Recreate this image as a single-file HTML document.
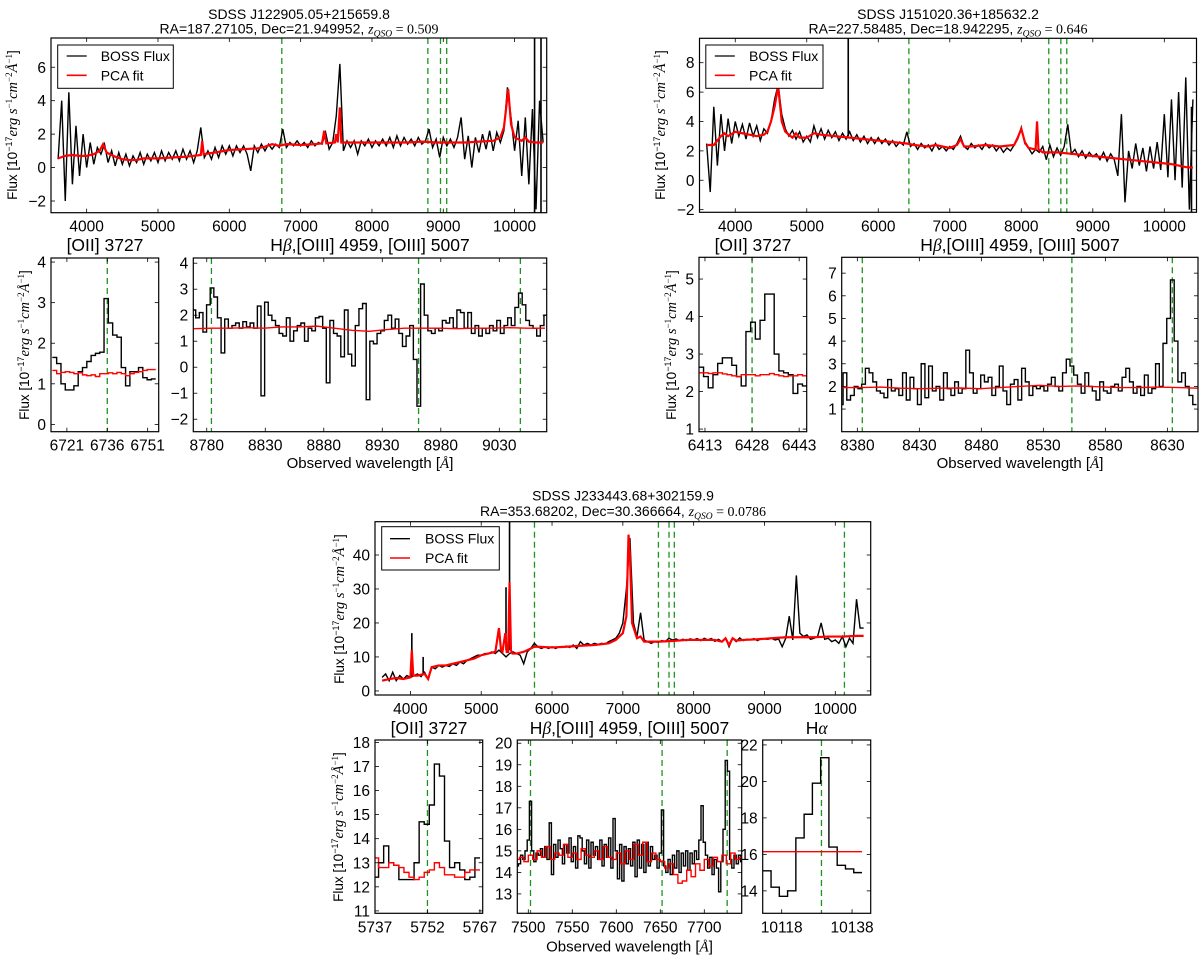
<!DOCTYPE html>
<html><head><meta charset="utf-8">
<style>
html,body{margin:0;padding:0;background:#fff;}
svg{display:block;font-family:"Liberation Sans",sans-serif;}
.tk{font-size:15.5px;fill:#000;}
.sub{font-size:17.5px;fill:#000;}
.sup{font-size:14px;fill:#000;}
.xl{font-size:15px;fill:#000;}
.yl{font-size:13.5px;fill:#000;}
.lg{font-size:14px;fill:#000;}
</style></head>
<body>
<svg id="fig" width="1200" height="957" viewBox="0 0 1200 957" xmlns="http://www.w3.org/2000/svg">
<g id="texts">
  <text class="sup" x="299" y="19" text-anchor="middle">SDSS J122905.05+215659.8</text>
  <text class="sup" x="299" y="33.5" text-anchor="middle">RA=187.27105, Dec=21.949952, <tspan font-family="Liberation Serif" font-style="italic">z</tspan><tspan font-family="Liberation Serif" font-style="italic" font-size="9.5" dy="3">QSO</tspan><tspan font-family="Liberation Serif" dy="-3"> = 0.509</tspan></text>
  <text class="sub" x="105" y="251" text-anchor="middle">[OII] 3727</text>
  <text class="sub" x="370" y="251" text-anchor="middle">H<tspan font-family="Liberation Serif" font-style="italic">β</tspan>,[OIII] 4959, [OIII] 5007</text>
  <text class="xl" x="370" y="468" text-anchor="middle">Observed wavelength [<tspan font-family="Liberation Serif" font-style="italic">Å</tspan>]</text>
  <text class="sup" x="948" y="19" text-anchor="middle">SDSS J151020.36+185632.2</text>
  <text class="sup" x="948" y="33.5" text-anchor="middle">RA=227.58485, Dec=18.942295, <tspan font-family="Liberation Serif" font-style="italic">z</tspan><tspan font-family="Liberation Serif" font-style="italic" font-size="9.5" dy="3">QSO</tspan><tspan font-family="Liberation Serif" dy="-3"> = 0.646</tspan></text>
  <text class="sub" x="753" y="251" text-anchor="middle">[OII] 3727</text>
  <text class="sub" x="1020" y="251" text-anchor="middle">H<tspan font-family="Liberation Serif" font-style="italic">β</tspan>,[OIII] 4959, [OIII] 5007</text>
  <text class="xl" x="1020" y="468" text-anchor="middle">Observed wavelength [<tspan font-family="Liberation Serif" font-style="italic">Å</tspan>]</text>
  <text class="sup" x="623" y="500.5" text-anchor="middle">SDSS J233443.68+302159.9</text>
  <text class="sup" x="623" y="516" text-anchor="middle">RA=353.68202, Dec=30.366664, <tspan font-family="Liberation Serif" font-style="italic">z</tspan><tspan font-family="Liberation Serif" font-style="italic" font-size="9.5" dy="3">QSO</tspan><tspan font-family="Liberation Serif" dy="-3"> = 0.0786</tspan></text>
  <text class="sub" x="429" y="734" text-anchor="middle">[OII] 3727</text>
  <text class="sub" x="629.5" y="734" text-anchor="middle">H<tspan font-family="Liberation Serif" font-style="italic">β</tspan>,[OIII] 4959, [OIII] 5007</text>
  <text class="sub" x="816.7" y="734" text-anchor="middle">H<tspan font-family="Liberation Serif" font-style="italic">α</tspan></text>
  <text class="xl" x="629.5" y="951.5" text-anchor="middle">Observed wavelength [<tspan font-family="Liberation Serif" font-style="italic">Å</tspan>]</text>
</g>
<g id="ylabels"></g>
<g id="plots"></g>
<g id="legends">
  <g>
    <rect x="57.7" y="45" width="115.6" height="43.3" fill="#fff" stroke="#000" stroke-width="1"/>
    <line x1="66.7" y1="56" x2="86.7" y2="56" stroke="#000" stroke-width="1.3"/>
    <text class="lg" x="100.7" y="61">BOSS Flux</text>
    <line x1="66.7" y1="75.3" x2="86.7" y2="75.3" stroke="#f00" stroke-width="1.6"/>
    <text class="lg" x="100.7" y="80.3">PCA fit</text>
  </g>
  <g>
    <rect x="705.8" y="45" width="117.2" height="43.3" fill="#fff" stroke="#000" stroke-width="1"/>
    <line x1="714.8" y1="56" x2="734.8" y2="56" stroke="#000" stroke-width="1.3"/>
    <text class="lg" x="749" y="61">BOSS Flux</text>
    <line x1="714.8" y1="75.3" x2="734.8" y2="75.3" stroke="#f00" stroke-width="1.6"/>
    <text class="lg" x="749" y="80.3">PCA fit</text>
  </g>
  <g>
    <rect x="381.7" y="526.7" width="117.6" height="43.3" fill="#fff" stroke="#000" stroke-width="1"/>
    <line x1="390" y1="538.7" x2="410" y2="538.7" stroke="#000" stroke-width="1.3"/>
    <text class="lg" x="425" y="543.7">BOSS Flux</text>
    <line x1="390" y1="558" x2="410" y2="558" stroke="#f00" stroke-width="1.6"/>
    <text class="lg" x="425" y="563">PCA fit</text>
  </g>
</g>
</svg>
<script>
// ===================== DATA =====================
const tlMainStart = 3600, mainStep = 50;
const tlMainFlux = [0.5,4.0,-2.0,4.5,-1.0,2.5,-0.5,2.0,0.0,1.5,0.2,1.2,0.8,1.4,0.3,1.0,0.1,0.9,0.2,0.8,0.1,0.7,0.3,0.9,0.2,0.8,0.4,0.9,0.3,1.0,0.4,0.9,0.5,1.0,0.4,1.1,0.5,1.0,0.3,1.0,2.4,0.6,1.0,0.5,1.2,0.6,1.3,0.8,1.3,0.7,1.3,0.9,1.3,0.8,-0.2,1.3,0.9,1.4,1.0,1.4,1.1,1.4,1.2,2.3,1.2,1.5,1.3,1.6,1.3,1.5,1.2,1.6,1.3,1.5,1.4,2.1,1.1,1.5,3.1,6.2,1.0,1.6,1.2,1.6,0.8,1.6,1.3,1.7,1.2,1.6,1.3,1.7,1.3,1.8,1.2,1.9,1.3,1.8,1.4,1.7,1.3,1.8,1.4,1.6,2.3,1.2,1.7,0.6,1.8,1.3,1.7,1.2,1.8,3.0,0.5,1.9,0.0,1.8,0.9,2.0,1.1,2.2,1.0,2.1,1.5,2.2,4.8,3.0,1.0,2.8,-0.5,3.0,-1.0,3.5,-2.5,4.0,1.5];
const tlFitWave = [3600,3700,3800,3900,4000,4100,4180,4230,4280,4400,4500,4600,4700,4800,5000,5200,5400,5600,5620,5640,5800,6000,6200,6400,6500,6600,6700,6800,7000,7200,7300,7330,7360,7480,7500,7520,7550,7570,7600,7700,7900,8100,8300,8500,8700,8900,9100,9300,9500,9700,9800,9850,9880,9910,9950,10000,10100,10150,10200,10300,10400];
const tlFitFlux = [0.55,0.7,0.75,0.7,0.7,0.8,1.0,1.4,0.9,0.65,0.5,0.45,0.45,0.55,0.55,0.6,0.65,0.75,1.6,0.8,0.9,1.05,1.1,1.15,1.25,1.4,1.3,1.4,1.35,1.4,1.45,2.2,1.45,1.5,2.0,1.5,3.6,1.5,1.5,1.5,1.5,1.5,1.5,1.5,1.55,1.5,1.5,1.5,1.55,1.6,1.8,2.4,3.5,4.7,2.6,1.8,1.6,1.8,1.55,1.5,1.5];
const tlSpikeWave = [10280,10370], tlSpikeLow = [-3,-3], tlSpikeHigh = [8,8];
const tlLines = [6736,8784,8961,9048];

const trMainFlux = [2.5,-0.8,5.0,1.0,4.5,2.0,4.2,2.5,4.0,3.0,3.8,2.8,3.9,3.0,3.7,2.7,3.5,3.2,4.0,5.5,6.5,4.5,3.5,3.0,3.4,2.8,3.3,2.6,3.0,2.6,3.7,2.9,3.5,2.8,3.4,2.9,3.3,2.7,3.2,2.8,3.3,2.7,3.1,2.6,3.0,2.5,2.9,2.5,2.9,2.5,2.8,2.4,2.7,2.3,2.6,2.4,3.3,2.3,2.5,2.1,2.5,2.2,2.4,2.0,2.5,2.1,2.3,2.0,2.3,2.1,2.5,3.0,2.3,2.1,2.5,2.2,2.4,2.1,2.5,2.2,2.4,2.0,2.3,1.9,2.2,2.0,2.4,2.8,3.6,2.5,2.2,1.8,2.1,1.9,2.3,1.4,2.4,1.6,2.2,1.7,2.3,3.8,1.8,2.1,1.6,2.0,1.5,1.9,1.6,1.8,1.4,1.9,1.3,1.8,1.4,0.3,4.5,-1.5,2.0,0.8,2.5,1.0,2.2,0.6,2.3,0.8,2.6,0.7,4.5,0.2,5.5,0.0,6.0,-0.5,7.0,-2.0,5.5];
const trFitWave = [3600,3700,3800,3850,3900,4000,4100,4200,4300,4400,4450,4500,4550,4600,4650,4700,4800,4850,4900,5000,5100,5200,5400,5600,5800,6000,6200,6400,6500,6700,6800,7000,7100,7150,7200,7300,7500,7700,7900,7950,8000,8050,8100,8200,8220,8240,8300,8500,8700,8900,9100,9300,9500,9700,9900,10100,10300,10400];
const trFitFlux = [2.4,2.4,3.0,3.2,3.0,3.3,3.2,3.1,3.0,3.1,3.3,4.0,5.0,6.4,4.0,3.3,2.9,3.2,2.9,2.9,3.2,3.1,3.0,2.9,2.8,2.7,2.6,2.5,2.4,2.3,2.4,2.2,2.4,2.8,2.3,2.3,2.4,2.3,2.4,2.9,3.5,2.6,2.2,2.1,4.0,2.1,1.9,1.9,1.8,1.7,1.6,1.5,1.4,1.3,1.2,1.1,0.9,0.85];
const trSpikeWave = [5580,10380], trSpikeLow = [3.0,-2.3], trSpikeHigh = [9.8,5.0];
const trLines = [6428,8384,8553,8636];

const bMainFlux = [4,5,3,5.5,3,4.5,3.5,4.5,4.0,4.5,5,4.2,5.5,3.5,7,6.5,7.5,7,7.5,7.2,8,7.5,8.5,8,9,9.5,10,10.5,10.5,11,11,11.5,11,12,11,10,11,11.5,11,10.5,8,11.5,12.5,14,13,12.5,13,12.5,13,12.5,13,12.8,13.2,12.8,13.5,12.5,14.5,13.5,14,13.5,14,13.7,14,13.8,14.5,15,15.5,17,20,30,45,20,16,23,15,14.5,14,14.5,14.3,14.8,14.5,15.5,15,15.3,14.8,15.2,14.8,15.3,15,15.4,14.8,15.5,15,15.4,14.6,15.2,14.5,15.5,13,15.5,14.5,15.6,14.8,15.2,15,15.4,14.8,15.3,15.3,15.2,15.5,15.0,15.3,13,15.5,22,15,34,17,16,16.5,15.2,15.5,16,20,15.2,15.5,14.5,15,14,16,13,15.5,14,27,18.5,18.5];
const bFitWave = [3600,3700,3800,3900,4000,4020,4040,4100,4200,4250,4300,4400,4500,4600,4700,4800,4900,5000,5100,5200,5250,5280,5300,5340,5360,5380,5400,5420,5440,5500,5600,5700,5750,5800,6000,6200,6400,6600,6800,6900,7000,7050,7080,7100,7130,7200,7250,7300,7400,7500,7700,7900,8100,8300,8400,8450,8500,8550,8600,8700,8900,9100,9300,9500,9700,9900,10100,10300,10400];
const bFitFlux = [3,3.5,3.8,3.5,4,12,4.5,4.5,5,3.5,7,7.5,7.5,8,8.5,9,9.5,10.5,11,11.5,18.5,12,11.5,17,11.5,11.5,32,12,11,11,11.5,12.5,13,13,12.8,13,13.3,13.5,14,15,17,22,46,40,20,15.5,16,14.5,14.5,14.5,14.7,15,15,15,14.5,15.5,13.5,15.5,14.8,15,15.2,15.5,15.8,15.8,15.8,16,16,16.2,16.2];
const bSpikeWave = [4020,4180,5350,5400], bSpikeLow = [4,5,12,12], bSpikeHigh = [17,10,30.5,51];
const bLines = [5752,7502,7652,7727,10129];

const tlOiiStart = 6716.4, tlOiiStep = 1.6;
const tlOiiFlux = [1.65,1.5,1.0,0.85,0.85,0.95,1.3,1.4,1.55,1.7,1.75,1.78,3.1,2.5,2.2,2.15,1.4,0.95,1.3,1.3,1.4,1.15,1.1,1.12];
const tlOiiFit = [1.33,1.25,1.28,1.3,1.28,1.25,1.27,1.22,1.2,1.22,1.18,1.25,1.25,1.27,1.25,1.28,1.25,1.2,1.25,1.28,1.3,1.33,1.35,1.35];
const tlOiiLines = [6736];

const tlHbStart = 8769, tlHbStep = 3.1;
const tlHbFlux = [2.2,1.9,2.1,1.35,2.4,3.05,2.7,1.9,0.55,1.85,1.5,1.6,1.7,1.5,1.75,1.55,1.7,1.5,2.35,-1.1,2.5,2.0,1.8,1.6,1.3,1.2,1.9,1.0,1.4,1.6,1.7,1.0,1.5,1.4,1.9,1.95,1.5,-0.6,1.8,1.3,1.2,0.4,2.2,0.5,0.05,1.6,2.25,2.45,-1.25,1.0,0.9,1.3,1.4,1.8,2.0,1.5,1.85,1.3,0.8,1.2,1.6,0.3,-1.5,3.2,2.0,1.4,1.3,1.5,1.4,1.8,1.7,1.9,1.5,2.2,2.1,1.5,2.1,1.3,1.6,1.2,1.5,1.3,1.6,1.4,1.8,1.3,1.6,1.9,1.6,2.3,2.85,2.4,1.8,1.6,1.5,1.2,1.6,2.0];
const tlHbFitStart = 8769, tlHbFitStep = 15;
const tlHbFit = [1.48,1.5,1.5,1.52,1.5,1.55,1.55,1.58,1.5,1.42,1.38,1.45,1.5,1.5,1.5,1.48,1.5,1.5,1.52,1.5,1.5];
const tlHbLines = [8784,8961,9048];

const trOiiStart = 6411.8, trOiiStep = 1.5;
const trOiiFlux = [2.65,2.4,2.1,2.45,2.75,2.9,2.9,2.7,2.4,2.15,3.6,3.85,3.4,3.9,4.6,4.6,3.0,2.55,2.5,2.45,1.95,2.2,2.15];
const trOiiFit = [2.5,2.5,2.48,2.5,2.5,2.47,2.45,2.42,2.4,2.45,2.45,2.45,2.42,2.45,2.45,2.48,2.45,2.42,2.4,2.42,2.42,2.45,2.42];
const trOiiLines = [6428];

const trHbStart = 8367, trHbStep = 3;
const trHbFlux = [1.2,2.6,1.4,1.6,2.0,1.9,2.1,2.8,2.6,2.2,1.8,1.7,1.5,2.3,1.8,1.9,1.6,2.6,1.4,2.4,1.9,1.2,3.0,1.5,2.9,1.8,2.0,1.4,2.6,1.9,1.6,2.2,1.7,1.9,3.6,2.6,1.7,1.9,2.5,2.2,2.4,1.6,2.0,2.9,1.8,1.2,2.1,2.3,1.4,2.8,2.2,1.6,2.0,1.9,2.0,1.8,2.1,2.4,2.0,1.8,2.6,3.2,2.9,2.5,2.1,1.7,2.6,2.0,1.8,1.4,2.2,1.8,1.7,2.0,2.1,1.8,2.4,2.8,2.2,1.7,2.0,1.6,2.5,1.7,1.9,3.0,2.0,3.9,5.0,6.7,4.0,2.2,2.6,2.0,1.6,1.2];
const trHbFitStart = 8367, trHbFitStep = 16;
const trHbFit = [1.95,1.95,1.97,1.92,1.9,1.92,1.93,1.9,1.95,2.0,2.05,2.0,2.02,1.98,1.95,1.95,1.97,1.95,1.92];
const trHbLines = [8384,8553,8634];

const bOiiStart = 5737.3, bOiiStep = 1.45;
const bOiiFlux = [12.4,13.0,13.7,13.0,12.9,12.3,12.3,12.3,13.0,14.7,14.6,15.4,17.1,16.6,13.9,12.8,13.0,12.7,12.3,12.4,13.2];
const bOiiFit = [13.2,12.8,12.8,13.0,12.9,12.8,12.6,12.4,12.3,12.4,12.6,12.7,13.0,12.8,12.5,12.5,12.4,12.4,12.6,12.7,12.7];
const bOiiLines = [5752];

const bHbStart = 7487.5, bHbStep = 2.5;
const bHbFlux = [14.3,14.4,14.8,14.6,15.0,15.5,17.3,15.0,14.5,14.9,14.8,15.1,14.7,15.2,14.6,16.3,13.9,15.3,14.7,15.5,15.1,14.4,15.3,14.9,15.6,14.5,15.2,14.2,15.7,15.6,15.0,14.4,15.5,14.2,15.4,14.8,15.2,14.6,15.5,14.3,15.3,14.7,15.6,14.2,16.5,15.0,13.7,15.3,13.6,15.2,14.4,15.1,14.3,15.4,13.8,15.5,14.2,15.3,14.0,15.4,14.3,15.2,14.6,14.8,14.2,14.9,16.9,14.3,14.0,14.6,13.9,14.8,14.2,15.0,14.0,14.9,14.3,15.0,14.1,14.9,14.4,15.0,14.6,15.5,17.1,15.4,14.8,14.2,14.7,13.9,14.6,14.2,13.1,14.5,16.0,19.2,18.7,14.6,14.2,14.8,14.4,14.8,14.5];
const bHbFitStart = 7487.5, bHbFitStep = 5;
const bHbFit = [14.6,14.7,14.5,14.8,14.6,15.0,14.7,15.2,14.6,14.9,14.8,15.3,14.7,14.9,14.6,15.1,14.8,14.7,15.0,14.6,15.2,14.7,14.6,14.9,14.4,15.0,14.6,15.3,14.8,15.4,14.5,14.9,14.6,14.5,14.2,14.4,13.9,13.5,13.6,14.1,13.8,14.4,14.1,14.6,14.3,14.7,14.5,14.8,14.4,14.9,14.6,14.7];
const bHbLines = [7502.5,7652,7726];

const haStart = 10113.8, haStep = 2.35;
const haFlux = [15.1,14.2,13.7,14.0,16.9,18.2,19.9,21.3,16.4,15.4,15.2,15.0];
const haFit = [16.15,16.15,16.15,16.15,16.15,16.15,16.15,16.15,16.15,16.15,16.15,16.15];
const haLines = [10129.3];

const mainXTicks = [4000,5000,6000,7000,8000,9000,10000];
const tlMainYTicks = [-2,0,2,4,6];
const trMainYTicks = [-2,0,2,4,6,8];
const bMainYTicks = [0,10,20,30,40];
const tlOiiXTicks = [6721,6736,6751], tlOiiYTicks = [0,1,2,3,4];
const tlHbXTicks = [8780,8830,8880,8930,8980,9030], tlHbYTicks = [-2,-1,0,1,2,3,4];
const trOiiXTicks = [6413,6428,6443], trOiiYTicks = [1,2,3,4,5];
const trHbXTicks = [8380,8430,8480,8530,8580,8630], trHbYTicks = [1,2,3,4,5,6,7];
const bOiiXTicks = [5737,5752,5767], bOiiYTicks = [11,12,13,14,15,16,17,18];
const bHbXTicks = [7500,7550,7600,7650,7700], bHbYTicks = [13,14,15,16,17,18,19,20];
const haXTicks = [10118,10138], haYTicks = [14,16,18,20,22];

// ===================== DRAWING =====================
const NS = 'http://www.w3.org/2000/svg';
const plots = document.getElementById('plots');
let clipId = 0;
function mk(tag, attrs, parent) {
  const el = document.createElementNS(NS, tag);
  for (const k in attrs) el.setAttribute(k, attrs[k]);
  if (parent) parent.appendChild(el);
  return el;
}
function fmt(v) { return v < 0 ? '\u2212' + Math.abs(v) : String(v); }

function makeAxes(name, box, xd, yd, xt, yt) {
  const g = mk('g', {}, plots);
  
  
  const sx = v => box[0] + (v - xd[0]) / (xd[1] - xd[0]) * (box[1] - box[0]);
  const sy = v => box[3] - (v - yd[0]) / (yd[1] - yd[0]) * (box[3] - box[2]);
  const id = 'clip' + (clipId++);
  const cp = mk('clipPath', {id: id}, g);
  mk('rect', {x: box[0], y: box[2], width: box[1] - box[0], height: box[3] - box[2]}, cp);
  const data = mk('g', {'clip-path': 'url(#' + id + ')'}, g);
  const axg = mk('g', {}, g);
  const frame = mk('rect', {x: box[0], y: box[2], width: box[1] - box[0], height: box[3] - box[2], fill: 'none', stroke: '#000', 'stroke-width': 1.2}, axg);
  
  
  xt.forEach(v => {
    const x = sx(v);
    mk('line', {x1: x, y1: box[3], x2: x, y2: box[3] - 4, stroke: '#000', 'stroke-width': 0.8}, axg);
    mk('line', {x1: x, y1: box[2], x2: x, y2: box[2] + 4, stroke: '#000', 'stroke-width': 0.8}, axg);
    const t = mk('text', {x: x, y: box[3] + 19, 'text-anchor': 'middle', class: 'tk'}, axg);
    
    
    t.textContent = fmt(v);
  });
  yt.forEach(v => {
    const y = sy(v);
    mk('line', {x1: box[0], y1: y, x2: box[0] + 4, y2: y, stroke: '#000', 'stroke-width': 0.8}, axg);
    mk('line', {x1: box[1], y1: y, x2: box[1] - 4, y2: y, stroke: '#000', 'stroke-width': 0.8}, axg);
    const t = mk('text', {x: box[0] - 5, y: y + 5.5, 'text-anchor': 'end', class: 'tk'}, axg);
    
    
    t.textContent = fmt(v);
  });
  return {sx, sy, data, box};
}

function linePath(ax, xs, ys) {
  let d = '';
  for (let i = 0; i < xs.length; i++) d += (i ? 'L' : 'M') + ax.sx(xs[i]).toFixed(2) + ',' + ax.sy(ys[i]).toFixed(2);
  return d;
}
function stepPath(ax, start, step, ys) {
  let d = '';
  for (let i = 0; i < ys.length; i++) {
    const c = start + i * step;
    const x0 = ax.sx(c - step / 2), x1 = ax.sx(c + step / 2), y = ax.sy(ys[i]);
    d += (i ? 'L' : 'M') + x0.toFixed(2) + ',' + y.toFixed(2) + 'L' + x1.toFixed(2) + ',' + y.toFixed(2);
  }
  return d;
}
function gridX(start, step, n) { const a = []; for (let i = 0; i < n; i++) a.push(start + i * step); return a; }

function addDashed(ax, lines) {
  lines.forEach(w => {
    const l = mk('line', {x1: ax.sx(w), x2: ax.sx(w), y1: ax.box[2], y2: ax.box[3], stroke: '#1e931e', 'stroke-width': 1.3, 'stroke-dasharray': '6,4'}, ax.data);
    
    
  });
}
function addPath(ax, d, color, w, nm) {
  const p = mk('path', {d: d, fill: 'none', stroke: color, 'stroke-width': w, 'stroke-linejoin': 'miter'}, ax.data);
  
  
  return p;
}
function addSpikes(ax, ws, lo, hi) {
  ws.forEach((w, i) => {
    const l = mk('line', {x1: ax.sx(w), x2: ax.sx(w), y1: ax.sy(lo[i]), y2: ax.sy(hi[i]), stroke: '#000', 'stroke-width': 1.6}, ax.data);
    
    
  });
}

function mainPanel(name, box, xd, yd, yt, flux, fw, ff, sw, slo, shi, lines) {
  const ax = makeAxes(name, box, xd, yd, mainXTicks, yt);
  addDashed(ax, lines);
  addPath(ax, linePath(ax, gridX(tlMainStart, mainStep, flux.length), flux), '#000', 1.4, 'boss-flux-line');
  addSpikes(ax, sw, slo, shi);
  addPath(ax, linePath(ax, fw, ff), '#f00', 2.2, 'pca-fit-line');
}
function zoomPanel(name, box, xd, yd, xt, yt, st, sp, flux, fst, fsp, fit, lines, fitSteps) {
  const ax = makeAxes(name, box, xd, yd, xt, yt);
  addDashed(ax, lines);
  addPath(ax, stepPath(ax, st, sp, flux), '#000', 1.4, 'boss-flux-steps');
  if (fitSteps) addPath(ax, stepPath(ax, fst, fsp, fit), '#f00', 1.4, 'pca-fit-steps');
  else addPath(ax, linePath(ax, gridX(fst, fsp, fit.length), fit), '#f00', 1.4, 'pca-fit-line');
}

mainPanel('panel-tl-main', [51, 546.7, 38, 212.7], [3500, 10450], [-2.7, 7.75], tlMainYTicks, tlMainFlux, tlFitWave, tlFitFlux, tlSpikeWave, tlSpikeLow, tlSpikeHigh, tlLines);
zoomPanel('panel-tl-oii', [51, 158.7, 258, 431.7], [6715.1, 6755.1], [-0.18, 4.1], tlOiiXTicks, tlOiiYTicks, tlOiiStart, tlOiiStep, tlOiiFlux, tlOiiStart, tlOiiStep, tlOiiFit, tlOiiLines, true);
zoomPanel('panel-tl-hb', [193.3, 546.7, 258, 431.7], [8768.5, 9070.5], [-2.48, 4.2], tlHbXTicks, tlHbYTicks, tlHbStart, tlHbStep, tlHbFlux, tlHbFitStart, tlHbFitStep, tlHbFit, tlHbLines, false);
mainPanel('panel-tr-main', [699.5, 1196.5, 38.3, 212.3], [3500, 10450], [-2.18, 9.66], trMainYTicks, trMainFlux, trFitWave, trFitFlux, trSpikeWave, trSpikeLow, trSpikeHigh, trLines);
zoomPanel('panel-tr-oii', [699, 806.7, 257.3, 431.7], [6411.1, 6445.4], [0.93, 5.58], trOiiXTicks, trOiiYTicks, trOiiStart, trOiiStep, trOiiFlux, trOiiStart, trOiiStep, trOiiFit, trOiiLines, true);
zoomPanel('panel-tr-hb', [841.7, 1198, 257.3, 431.7], [8367.4, 8654.7], [0.0, 7.7], trHbXTicks, trHbYTicks, trHbStart, trHbStep, trHbFlux, trHbFitStart, trHbFitStep, trHbFit, trHbLines, false);
mainPanel('panel-b-main', [375, 870.7, 521.7, 695], [3500, 10500], [-1.2, 49.8], bMainYTicks, bMainFlux, bFitWave, bFitFlux, bSpikeWave, bSpikeLow, bSpikeHigh, bLines);
zoomPanel('panel-b-oii', [375, 482.7, 740, 913.3], [5737, 5767.8], [10.9, 18.1], bOiiXTicks, bOiiYTicks, bOiiStart, bOiiStep, bOiiFlux, bOiiStart, bOiiStep, bOiiFit, bOiiLines, true);
zoomPanel('panel-b-hb', [517.3, 741.7, 740, 913.3], [7487.5, 7742.5], [12.1, 20.15], bHbXTicks, bHbYTicks, bHbStart, bHbStep, bHbFlux, bHbFitStart, bHbFitStep, bHbFit, bHbLines, true);
zoomPanel('panel-b-halpha', [762.7, 870.7, 740, 913.3], [10112.6, 10143.3], [12.77, 22.27], haXTicks, haYTicks, haStart, haStep, haFlux, haStart, haStep, haFit, haLines, true);

const ylg = document.getElementById('ylabels');
function ylabel(x, y, nm) {
  const t = mk('text', {transform: 'translate(' + x + ',' + y + ') rotate(-90)', 'text-anchor': 'middle', class: 'yl'}, ylg);
  
  
  t.innerHTML = 'Flux [10<tspan font-size="9" dy="-5">\u221217</tspan><tspan dy="5" font-family="Liberation Serif" font-style="italic" font-size="14.5">erg s</tspan><tspan font-family="Liberation Serif" font-size="9" dy="-5">\u22121</tspan><tspan dy="5" font-family="Liberation Serif" font-style="italic" font-size="14.5">cm</tspan><tspan font-family="Liberation Serif" font-size="9" dy="-5">\u22122</tspan><tspan dy="5" font-family="Liberation Serif" font-style="italic" font-size="14.5">Å</tspan><tspan font-family="Liberation Serif" font-size="9" dy="-5">\u22121</tspan><tspan dy="5">]</tspan>';
}
ylabel(17, 125, 'y-axis-title-tl-main');
ylabel(29, 345, 'y-axis-title-tl-zoom');
ylabel(665, 125, 'y-axis-title-tr-main');
ylabel(676, 345, 'y-axis-title-tr-zoom');
ylabel(344, 609, 'y-axis-title-b-main');
ylabel(343, 827, 'y-axis-title-b-zoom');
</script>
</body></html>
